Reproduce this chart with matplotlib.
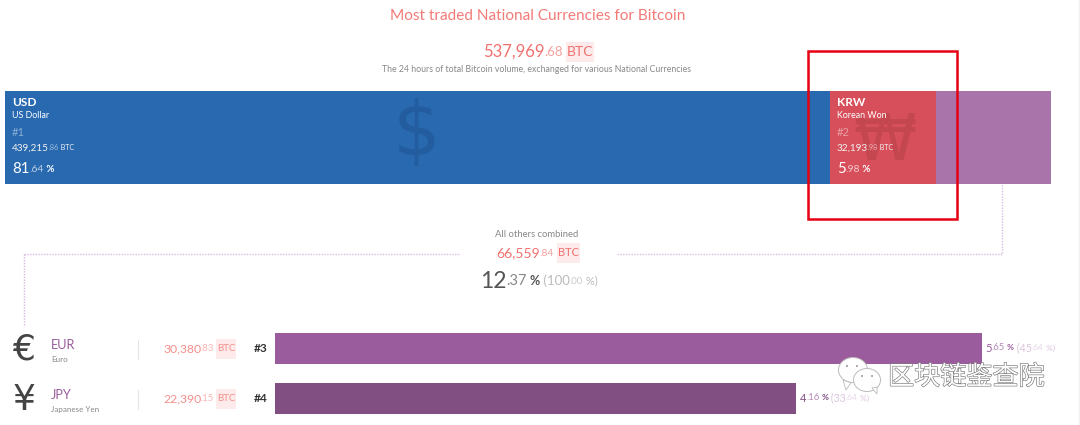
import matplotlib
matplotlib.use('Agg')
import matplotlib.pyplot as plt
from matplotlib.patches import Rectangle, Ellipse, Polygon
import matplotlib.patheffects as pe

plt.rcParams['font.family'] = ['Lato', 'DejaVu Sans']

# top strip
top_codes = ['USD', 'KRW']
top_names = ['US Dollar', 'Korean Won']
top_ranks = ['#1', '#2']
top_volumes = [439215.86, 32193.98]
top_shares = [81.64, 5.98]
top_symbols = ['$', '₩']
top_labels_left = [12, 837]
# strip widths as drawn (percent of the strip), the picture is not to scale
strip_widths = [78.9, 10.1, 11.0]
strip_colors = ['#2869b0', '#d64f5a', '#a874aa']

total_volume = 537969.68
others_volume = 66559.84
others_share = 12.37

# lower rows
row_codes = ['EUR', 'JPY']
row_names = ['Euro', 'Japanese Yen']
row_ranks = ['#3', '#4']
row_volumes = [30380.83, 22390.15]
row_shares = [5.65, 4.16]
row_of_others = [45.64, 33.64]
row_symbols = ['€', '¥']
row_colors = ['#9a5c9c', '#824f83']

RED = '#f0706e'
PINK = '#fdeaea'
W, H = 1080, 425

fig = plt.figure(figsize=(W / 100, H / 100), dpi=100)
ax = fig.add_axes([0, 0, 1, 1])
ax.set_xlim(0, W)
ax.set_ylim(H, 0)
ax.axis('off')
fig.canvas.draw()
rend = fig.canvas.get_renderer()


def runs(x, y, parts, ha='left', bg=None):
    # parts are (text, size, color, weight); drawn one after the other
    items = []
    total = 0
    for s, size, col, wt in parts:
        t = ax.text(0, y, s, fontsize=size, color=col, weight=wt, va='center', ha='left', zorder=6)
        w = t.get_window_extent(rend).width
        # trailing spaces are not measured
        if s.endswith(' '):
            w += size * 0.1
        if s.startswith('.'):
            # the dot needs its own room
            w += 0.6
        w -= 0.3
        items.append((t, w))
        total += w
    if ha == 'center':
        x = x - total / 2
    elif ha == 'right':
        x = x - total
    for i, (t, w) in enumerate(items):
        t.set_x(x)
        if bg is not None and i == bg:
            ax.add_patch(Rectangle((x - 1, y - 10), w + 2, 20, fc=PINK, ec='none', zorder=5))
        x += w
    return x


def split_num(v):
    a, b = f'{v:,.2f}'.split('.')
    return a, '.' + b


# headings
ax.text(537.5, 16, 'Most traded National Currencies for Bitcoin', fontsize=11.1, color='#f27b78', ha='center', va='center')
a, b = split_num(total_volume)
runs(538, 52, [(a, 12, RED, 'normal'), (b, 9.5, '#f7a09e', 'normal'), (' ', 9, RED, 'normal'), ('BTC', 10, RED, 'normal')],
     ha='center', bg=3)
ax.text(537, 69, 'The 24 hours of total Bitcoin volume, exchanged for various National Currencies',
        fontsize=6.3, color='#888888', ha='center', va='center')

# strip
ax_top = fig.add_axes([5 / W, 1 - 184 / H, 1046 / W, 93 / H])
left = 0
for wd, col in zip(strip_widths, strip_colors):
    ax_top.barh(0, wd, left=left, height=1, color=col)
    left += wd
ax_top.set_xlim(0, 100)
ax_top.set_ylim(-0.5, 0.5)
ax_top.axis('off')
ax_top.set_zorder(0)
ax.set_zorder(2)
ax.patch.set_alpha(0)

for i, code in enumerate(top_codes):
    x = top_labels_left[i]
    ax.text(x, 102.5, code, fontsize=8.6, color='white', weight='bold', va='center', zorder=4)
    ax.text(x, 115.5, top_names[i], fontsize=6.4, color='white', va='center', zorder=4)
    ax.text(x, 133, top_ranks[i], fontsize=8, color='#ffffff', alpha=0.45, va='center', zorder=4)
    a, b = split_num(top_volumes[i])
    runs(x, 148, [(a, 7.2, '#f2f2f2', 'normal'), (b, 5.3, '#ffffff90', 'normal'), (' BTC', 5, '#f2f2f2', 'normal')])
    a, b = f'{top_shares[i]:.2f}'.split('.')
    runs(x, 169, [(a, 10.8, 'white', 'normal'), ('.' + b, 7.5, '#ffffffb0', 'normal'), (' %', 7, 'white', 'bold')])
ax.text(417, 135, top_symbols[0], fontsize=54, color='#235d9f', ha='center', va='center', zorder=2,
        family='DejaVu Sans')
ax.text(885, 142, top_symbols[1], fontsize=46, color='#c4474f', ha='center', va='center', zorder=2,
        family='DejaVu Sans')

# red box
ax.add_patch(Rectangle((808, 50.5), 149, 168, fc='none', ec='#e60012', lw=1.8, zorder=8))

# others block
ax.text(537, 234, 'All others combined', fontsize=6.8, color='#888888', ha='center', va='center')
a, b = split_num(others_volume)
runs(537.5, 253, [(a, 10, RED, 'normal'), (b, 7.5, '#f7a09e', 'normal'), (' ', 8, RED, 'normal'), ('BTC', 8, RED, 'normal')],
     ha='center', bg=3)
a, b = f'{others_share:.2f}'.split('.')
runs(538.5, 281, [(a, 16.5, '#555555', 'normal'), ('.' + b, 10.5, '#888888', 'normal'), (' %', 9, '#555555', 'bold'),
                  (' (100', 9.5, '#bbbbbb', 'normal'), ('.00', 7, '#cccccc', 'normal'), (' %)', 8, '#bbbbbb', 'normal')],
     ha='center')

dots = dict(color='#d9b9e2', lw=1, ls=(0, (1, 1)), zorder=1)
ax.plot([24, 460], [254, 254], **dots)
ax.plot([24, 24], [254, 325], **dots)
ax.plot([617, 1002, 1002], [254, 254, 184], **dots)

# rows
ax_rows = fig.add_axes([275 / W, 1 - 423.5 / H, 805 / W, 100 / H])
ax_rows.barh(range(len(row_codes)), row_of_others, height=0.62, color=row_colors)
ax_rows.set_xlim(0, 52)
ax_rows.set_ylim(1.5, -0.5)
ax_rows.axis('off')

for i, code in enumerate(row_codes):
    yc = 348.5 + 50 * i
    ax.text(24, yc + 1.5, row_symbols[i], fontsize=26, color='#444444', ha='center', va='center', family='DejaVu Sans')
    ax.text(51, yc - 3.5, code, fontsize=9.2, color='#9a5c9c', va='center')
    ax.text(51, yc + 11, row_names[i], fontsize=5.8, color='#888888', va='center')
    ax.plot([138, 138], [yc - 9, yc + 10], color='#e4e4e4', lw=0.8)
    a, b = split_num(row_volumes[i])
    runs(235, yc, [(a, 8.8, '#f58f8c', 'normal'), (b, 6.8, '#f9b5b3', 'normal'), (' ', 6, RED, 'normal'), ('BTC', 7, '#f58f8c', 'normal')],
         ha='right', bg=3)
    ax.text(261, yc, row_ranks[i], fontsize=8.6, color='#333333', weight='bold', ha='center', va='center')
    # value labels follow the bar end
    xe = 275 + row_of_others[i] / 52 * 805 + 4
    a, b = f'{row_shares[i]:.2f}'.split('.')
    c, d = f'{row_of_others[i]:.2f}'.split('.')
    runs(xe, yc - 0.5, [(a, 8, row_colors[i], 'normal'), ('.' + b, 6.8, '#b48ab6', 'normal'), (' %', 6, row_colors[i], 'bold'),
                        (' (' + c, 7.6, '#dcc4de', 'normal'), ('.' + d, 6, '#e6d6e8', 'normal'), (' %)', 6, '#dcc4de', 'normal')])

# watermark
for cx, cy, w, h in [(853, 370, 29, 25), (867, 380, 27, 23)]:
    ax.add_patch(Ellipse((cx, cy), w, h, fc='white', ec='#bbbbbb', lw=0.7, zorder=9))
ax.add_patch(Polygon([[843, 380], [846, 390], [851, 383]], fc='white', ec='#bbbbbb', lw=0.6, zorder=9))
ax.add_patch(Polygon([[872, 388], [877, 394], [877, 387]], fc='white', ec='#bbbbbb', lw=0.6, zorder=10))
for px, py in [(847, 366), (857, 366), (862, 376), (872, 376)]:
    ax.add_patch(Ellipse((px, py), 2, 2, fc='#999999', ec='none', zorder=11))
ax.text(888, 377, '区块链鉴查院', fontsize=18.8, family=['Noto Sans CJK SC', 'DejaVu Sans'], color='white', va='center', zorder=9,
        path_effects=[pe.withStroke(linewidth=0.9, foreground='#777777')])

ax.plot([1078.5, 1078.5], [0, H], color='#f0f0f0', lw=1)

fig.savefig('out.png', dpi=100)
